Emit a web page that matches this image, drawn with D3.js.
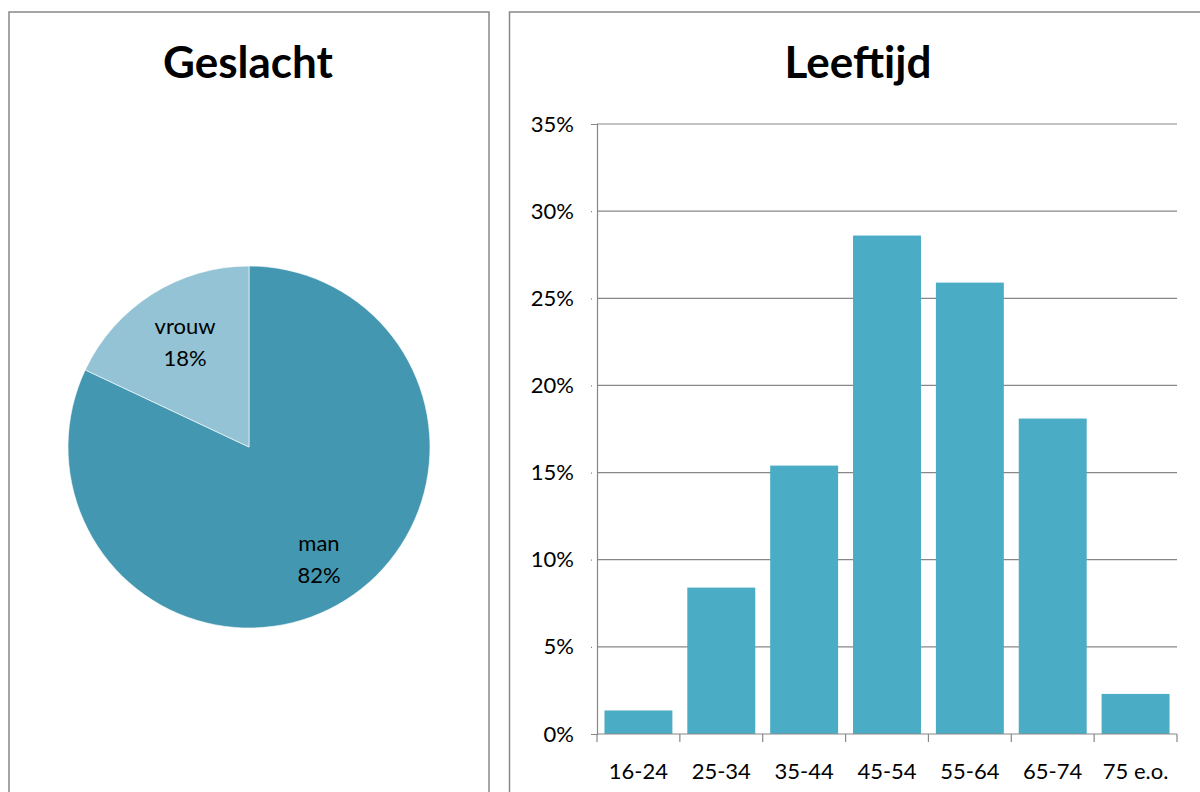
<!DOCTYPE html>
<html>
<head>
<meta charset="utf-8">
<script src="https://cdn.jsdelivr.net/npm/d3@7"></script>
<style>
  body { margin: 0; background: #fff; }
  svg { display: block; font-family: Lato, "Open Sans", sans-serif; }
</style>
</head>
<body>
<div id="chart"></div>
<script>
var genderLabels = ["man", "vrouw"];
var genderValues = [82, 18];
var genderColors = ["#4397b0", "#93c3d5"];

var ageCategories = ["16-24", "25-34", "35-44", "45-54", "55-64", "65-74", "75 e.o."];
var ageValues = [1.35, 8.4, 15.4, 28.6, 25.9, 18.1, 2.3];
var yTicks = [0, 5, 10, 15, 20, 25, 30, 35];

var width = 1200,
  height = 792;

var svg = d3.select("#chart").append("svg").attr("width", width).attr("height", height);

// panel frames
svg.append("rect").attr("x", 9).attr("y", 12).attr("width", 480).attr("height", 800)
  .attr("fill", "none").attr("stroke", "#888").attr("stroke-width", 1.5);
svg.append("rect").attr("x", 509.5).attr("y", 12).attr("width", 720).attr("height", 800)
  .attr("fill", "none").attr("stroke", "#888").attr("stroke-width", 1.5);

// titles
svg.append("text").attr("x", 248).attr("y", 78).attr("text-anchor", "middle")
  .attr("font-size", 44).attr("font-weight", "bold").text("Geslacht");
svg.append("text").attr("x", 858).attr("y", 78).attr("text-anchor", "middle")
  .attr("font-size", 44).attr("font-weight", "bold").text("Leeftijd");

// pie
var pieData = genderLabels.map(function (d, i) {
  return { label: d, value: genderValues[i], color: genderColors[i] };
});
var pie = d3.pie().sort(null).value(function (d) { return d.value; });
var radius = 181;
var arc = d3.arc().innerRadius(0).outerRadius(radius);

var pieG = svg.append("g").attr("transform", "translate(249,447)");
var slices = pieG.selectAll(".slice").data(pie(pieData)).enter().append("g");
slices.append("path")
  .attr("d", arc)
  .attr("fill", function (d) { return d.data.color; })
  .attr("stroke", "#fff")
  .attr("stroke-width", 0.6);

var labelPos = { man: [70, 104], vrouw: [-64, -113] };
slices.each(function (d) {
  var p = labelPos[d.data.label];
  var t = d3.select(this).append("text")
    .attr("text-anchor", "middle")
    .attr("font-size", 22)
    .attr("fill", "#000");
  t.append("tspan").attr("x", p[0]).attr("y", p[1]).text(d.data.label);
  t.append("tspan").attr("x", p[0]).attr("y", p[1] + 32).text(d.data.value + "%");
});

// bar chart
var plotLeft = 597,
  plotRight = 1177,
  plotTop = 124,
  plotBottom = 734;

var x = d3.scaleBand().domain(ageCategories).range([plotLeft, plotRight]).paddingInner(0.18).paddingOuter(0.09);
var y = d3.scaleLinear().domain([0, 35]).range([plotBottom, plotTop]);

svg.append("g").selectAll("line").data(yTicks.slice(1)).enter().append("line")
  .attr("x1", plotLeft).attr("x2", plotRight)
  .attr("y1", function (d) { return y(d); }).attr("y2", function (d) { return y(d); })
  .attr("stroke", "#878787").attr("stroke-width", 1.2);

svg.append("g").selectAll("rect").data(ageValues).enter().append("rect")
  .attr("x", function (d, i) { return x(ageCategories[i]); })
  .attr("y", function (d) { return y(d); })
  .attr("width", x.bandwidth())
  .attr("height", function (d) { return plotBottom - y(d); })
  .attr("fill", "#4bacc6");

var yAxis = d3.axisLeft(y).tickValues(yTicks).tickSize(6).tickPadding(6)
  .tickFormat(function (d) { return d + "%"; });
var yG = svg.append("g").attr("transform", "translate(" + plotLeft + ",0)").call(yAxis);
yG.select(".domain").attr("stroke", "#878787").attr("stroke-width", 1.2);
yG.selectAll(".tick line").attr("stroke", "#878787").attr("stroke-width", 1.2).attr("x1", -5);
yG.selectAll(".tick text").attr("font-size", 22).attr("font-family", "Lato, sans-serif").attr("fill", "#000").attr("x", -23);

var xStep = (plotRight - plotLeft) / ageCategories.length;
var xG = svg.append("g");
xG.append("line").attr("x1", plotLeft).attr("x2", plotRight).attr("y1", plotBottom).attr("y2", plotBottom)
  .attr("stroke", "#878787").attr("stroke-width", 1.2);
xG.selectAll(".xt").data(d3.range(ageCategories.length + 1)).enter().append("line")
  .attr("x1", function (i) { return plotLeft + i * xStep; })
  .attr("x2", function (i) { return plotLeft + i * xStep; })
  .attr("y1", plotBottom).attr("y2", plotBottom + 8)
  .attr("stroke", "#878787").attr("stroke-width", 1.2);
xG.selectAll(".xl").data(ageCategories).enter().append("text")
  .attr("x", function (d) { return x(d) + x.bandwidth() / 2; })
  .attr("y", 779)
  .attr("text-anchor", "middle")
  .attr("font-size", 22)
  .text(function (d) { return d; });
</script>
</body>
</html>
